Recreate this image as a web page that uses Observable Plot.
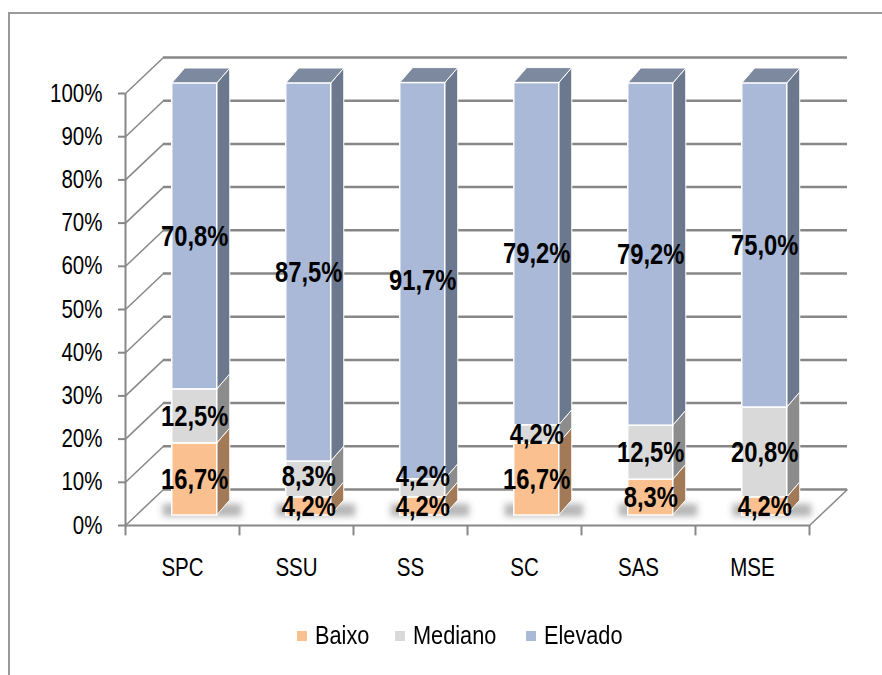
<!DOCTYPE html>
<html>
<head>
<meta charset="utf-8">
<script src="https://cdn.jsdelivr.net/npm/d3@7"></script>
<script src="https://cdn.jsdelivr.net/npm/@observablehq/plot@0.6"></script>
<style>
  html, body { margin: 0; padding: 0; background: #fff; }
  body { width: 882px; height: 675px; position: relative; overflow: hidden;
         font-family: "Liberation Sans", Arial, sans-serif; }
  #frame { position: absolute; left: 8px; top: 12px; width: 900px; height: 700px;
           border: 2px solid #9a9a9a; box-sizing: border-box; }
  #chart { position: absolute; left: 0; top: 0; }
  #legend { position: absolute; left: 0; top: 0; width: 882px; height: 675px; pointer-events: none; }
  #legend .sw { position: absolute; width: 10px; height: 10px; top: 631px; }
  #legend .lab { position: absolute; top: 620px; font-size: 26.5px; line-height: 30px; color: #000;
                 white-space: nowrap; transform: scaleX(0.82); transform-origin: left center; }
</style>
</head>
<body>
<div id="frame"></div>
<div id="chart"></div>
<div id="legend"></div>
<script>
// Categories and the share (%) of each level per category
const categories = ["SPC", "SSU", "SS", "SC", "SAS", "MSE"];
const baixo   = [16.7, 4.2, 4.2, 16.7, 8.3, 4.2];
const mediano = [12.5, 8.3, 4.2, 4.2, 12.5, 20.8];
const elevado = [70.8, 87.5, 91.7, 79.2, 79.2, 75.0];
const seriesNames = ["Baixo", "Mediano", "Elevado"];
const yTicks = [0, 10, 20, 30, 40, 50, 60, 70, 80, 90, 100];

// Face colours for each level: front, side
const faces = {
  Baixo:   {front: "#fac090", side: "#a37a58"},
  Mediano: {front: "#d9d9d9", side: "#8c8c8c"},
  Elevado: {front: "#a9b9d7", side: "#6c788d"}
};
const topFace = "#7d899f";
const shadowColor = "#505050";

// Oblique depth of the box (in x index units and y percent units)
const DX = 0.3333, DY = 8.333;      // back wall offset
const BX = 0.41, BW = 0.395;        // bar front face start and width within a band
const BY = 2.31;                    // bar front face lifted from the floor front edge
const BDX = 0.114, BDY = 3.47;      // bar depth
const LABEL_GAP = 6.9;              // minimum vertical distance between value labels (% units)

const seriesValues = [baixo, mediano, elevado];

// Build the stacked segments and their label positions
const segments = [];
categories.forEach((c, i) => {
  let cum = 0, prevLabel = -Infinity;
  seriesValues.forEach((vals, s) => {
    const v = vals[i];
    let ly = BY + cum + v / 2;
    if (ly - prevLabel < LABEL_GAP) ly = prevLabel + LABEL_GAP;
    prevLabel = ly;
    segments.push({
      category: c, series: seriesNames[s], value: v,
      x1: i + BX, x2: i + BX + BW,
      y1: BY + cum, y2: BY + cum + v, ly
    });
    cum += v;
  });
});

// Side faces as areas between two vertical edges (two points per segment)
const sidePoints = segments.flatMap((d, k) => [
  {k, series: d.series, x: d.x2, y1: d.y1, y2: d.y2},
  {k, series: d.series, x: d.x2 + BDX, y1: d.y1 + BDY, y2: d.y2 + BDY}
]);
// Top faces of the topmost segments
const tops = segments.filter(d => d.series === "Elevado");
const topPoints = tops.flatMap((d, k) => [
  {k, y: d.y2, x1: d.x1, x2: d.x2},
  {k, y: d.y2 + BDY, x1: d.x1 + BDX, x2: d.x2 + BDX}
]);

const fmt = v => v.toFixed(1).replace(".", ",") + "%";
const grid = "#878787";
const font = "Liberation Sans, Arial, sans-serif";

const marks = [
  // back wall gridlines
  Plot.ruleY(yTicks, {y: d => d + DY, x1: DX, x2: 6 + DX, stroke: grid, strokeWidth: 2.5}),
  // side wall diagonals
  Plot.link(yTicks, {x1: 0, y1: d => d, x2: DX, y2: d => d + DY, stroke: grid, strokeWidth: 1.5}),
  // floor right edge
  Plot.link([0], {x1: 6, y1: 0, x2: 6 + DX, y2: DY, stroke: grid, strokeWidth: 1.5}),
  // axes lines
  Plot.ruleY([0], {x1: 0, x2: 6, stroke: grid, strokeWidth: 2}),
  Plot.ruleX([0], {y1: 0, y2: 100, stroke: grid, strokeWidth: 2}),
  // category boundary ticks
  Plot.ruleX(d3.range(7), {y1: 0, y2: -2.4, stroke: grid, strokeWidth: 2}),
  // y axis labels
  Plot.axisY(yTicks, {tickFormat: d => d + "%", tickSize: 7, tickPadding: 16, stroke: grid,
    strokeWidth: 2, fontSize: 25, fill: "#000", fontFamily: font, label: null}),
  // category labels
  Plot.text(categories, {x: (d, i) => i + 0.5, y: 0, dy: 42, text: d => d, fontSize: 25,
    fontFamily: font, fill: "#000"}),
  // floor shadows behind the bars
  Plot.rect(categories, {x1: (d, i) => i + BX - 0.08, x2: (d, i) => i + BX + BW + BDX + 0.1,
    y1: BY - 0.3, y2: BY + 2.6, fill: shadowColor, fillOpacity: 0.42})
];

for (const name of seriesNames) {
  marks.push(
    Plot.areaY(sidePoints.filter(d => d.series === name), {x: "x", y1: "y1", y2: "y2", z: "k",
      fill: faces[name].side, stroke: "#fff", strokeWidth: 1})
  );
}
marks.push(
  Plot.areaX(topPoints, {y: "y", x1: "x1", x2: "x2", z: "k", fill: topFace, stroke: "#fff", strokeWidth: 1})
);
for (const name of seriesNames) {
  marks.push(
    Plot.rect(segments.filter(d => d.series === name), {x1: "x1", x2: "x2", y1: "y1", y2: "y2",
      fill: faces[name].front, stroke: "#fff", strokeWidth: 1.5})
  );
}
// value labels
marks.push(
  Plot.text(segments, {x: d => (d.x1 + d.x2) / 2, y: "ly", text: d => fmt(d.value),
    fontSize: 29, fontWeight: "bold", fontFamily: font, fill: "#000"})
);

const chart = Plot.plot({
  width: 882,
  height: 600,
  marginLeft: 125,
  marginRight: 35,
  marginTop: 57,
  marginBottom: 75,
  x: {type: "linear", domain: [0, 6 + DX], axis: null},
  y: {domain: [0, 100 + DY], axis: null},
  style: {background: "transparent", overflow: "visible"},
  marks
});
document.getElementById("chart").appendChild(chart);

// Soft blur for the floor shadows
const svg = d3.select(chart);
const defs = svg.insert("defs", ":first-child");
defs.append("filter").attr("id", "soft-shadow")
  .attr("filterUnits", "userSpaceOnUse")
  .attr("x", 0).attr("y", 0).attr("width", 882).attr("height", 600)
  .append("feGaussianBlur").attr("stdDeviation", 3);
svg.selectAll("g, rect").filter(function () {
  return (this.getAttribute("fill") || "").toLowerCase() === shadowColor;
}).attr("filter", "url(#soft-shadow)");

// Narrow the lettering horizontally (condensed face)
svg.selectAll("text").each(function () {
  const t = d3.select(this);
  const tr = t.attr("transform");
  if (tr) t.attr("transform", tr + " scale(0.82,1)");
  else {
    const x = +t.attr("x") || 0, y = +t.attr("y") || 0;
    t.attr("x", null).attr("y", null).attr("transform", `translate(${x},${y}) scale(0.82,1)`);
  }
});

// legend
const legendPos = [297, 395, 526];
const legend = d3.select("#legend");
seriesNames.forEach((name, i) => {
  legend.append("div").attr("class", "sw").style("left", legendPos[i] + "px")
    .style("background", faces[name].front);
  legend.append("div").attr("class", "lab").style("left", (legendPos[i] + 18) + "px").text(name);
});
</script>
</body>
</html>
